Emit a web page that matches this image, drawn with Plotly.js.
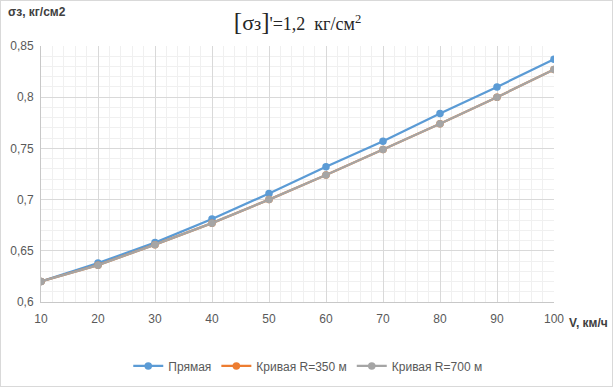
<!DOCTYPE html>
<html>
<head>
<meta charset="utf-8">
<script src="https://cdn.plot.ly/plotly-3.0.1.min.js"></script>
<style>
html,body{margin:0;padding:0;background:#fff;}
#wrap{width:611px;height:385px;border:1px solid #d9d9d9;}
#chart{width:611px;height:385px;}
</style>
</head>
<body>
<div id="wrap"><div id="chart"></div></div>
<script>
const speeds = [10, 20, 30, 40, 50, 60, 70, 80, 90, 100];
const straight = [0.620, 0.638, 0.658, 0.681, 0.706, 0.732, 0.757, 0.784, 0.810, 0.837];
const curve350 = [0.620, 0.636, 0.656, 0.677, 0.700, 0.724, 0.749, 0.774, 0.800, 0.827];
const curve700 = [0.620, 0.636, 0.656, 0.677, 0.700, 0.724, 0.749, 0.774, 0.800, 0.827];
const seriesNames = ['Прямая', 'Кривая R=350 м', 'Кривая R=700 м'];
const yTickVals = [0.6, 0.65, 0.7, 0.75, 0.8, 0.85];
const yTickText = ['0,6', '0,65', '0,7', '0,75', '0,8', '0,85'];

const colors = ['#5B9BD5', '#ED7D31', '#A5A5A5'];
const series = [straight, curve350, curve700];

const traces = series.map((ys, i) => ({
  x: speeds, y: ys, name: seriesNames[i], type: 'scatter', mode: 'lines+markers',
  line: {color: colors[i], width: 2.25},
  marker: {color: colors[i], size: 7.5, symbol: 'circle'}
}));

const tickFont = {family: 'Liberation Sans, Arial, sans-serif', size: 12, color: '#595959'};

const layout = {
  width: 611, height: 385,
  margin: {l: 40, r: 58, t: 45, b: 84, autoexpand: false},
  paper_bgcolor: '#fff', plot_bgcolor: '#fff',
  separators: ', ',
  showlegend: true,
  legend: {orientation: 'h', x: 0.52, xanchor: 'center', y: 0.052, yref: 'container', yanchor: 'middle',
           font: {family: 'Liberation Sans, Arial, sans-serif', size: 12, color: '#595959'},
           itemwidth: 30, tracegroupgap: 0},
  title: {text: '<span style="font-size:25px">[</span><span style="font-size:22px">σ</span>з<span style="font-size:25px">]</span>\'=1,2  кг/см<sup>2</sup>',
          font: {family: 'Liberation Serif, Times New Roman, serif', size: 18, color: '#262626'},
          x: 0.5, xref: 'paper', xanchor: 'center', y: 0.94, yref: 'container', yanchor: 'middle'},
  xaxis: {range: [10, 100], dtick: 10, tick0: 10, showgrid: true, gridcolor: '#d9d9d9', gridwidth: 1,
          minor: {dtick: 2, showgrid: true, gridcolor: '#f0f0f0', gridwidth: 1},
          showline: true, linecolor: '#c8c8c8', linewidth: 1, zeroline: false,
          ticks: '', tickfont: tickFont, ticklabelstandoff: 6, fixedrange: true},
  yaxis: {range: [0.6, 0.85], tickvals: yTickVals, ticktext: yTickText, showgrid: true,
          gridcolor: '#d9d9d9', gridwidth: 1,
          minor: {dtick: 0.01, tick0: 0.6, showgrid: true, gridcolor: '#f0f0f0', gridwidth: 1},
          showline: true, linecolor: '#c8c8c8', linewidth: 1, zeroline: false,
          ticks: '', tickfont: tickFont, ticklabelstandoff: 4, fixedrange: true},
  annotations: [
    {text: '<b>σз, кг/см2</b>', xref: 'paper', yref: 'paper', x: -0.068, y: 1.133,
     xanchor: 'left', yanchor: 'middle', showarrow: false,
     font: {family: 'Liberation Sans, Arial, sans-serif', size: 12, color: '#404040'}},
    {text: '<b>V, км/ч</b>', xref: 'paper', yref: 'paper', x: 1.025, y: -0.082,
     xanchor: 'left', yanchor: 'middle', showarrow: false,
     font: {family: 'Liberation Sans, Arial, sans-serif', size: 12, color: '#404040'}}
  ]
};

Plotly.newPlot('chart', traces, layout, {displayModeBar: false, staticPlot: true});
</script>
</body>
</html>
